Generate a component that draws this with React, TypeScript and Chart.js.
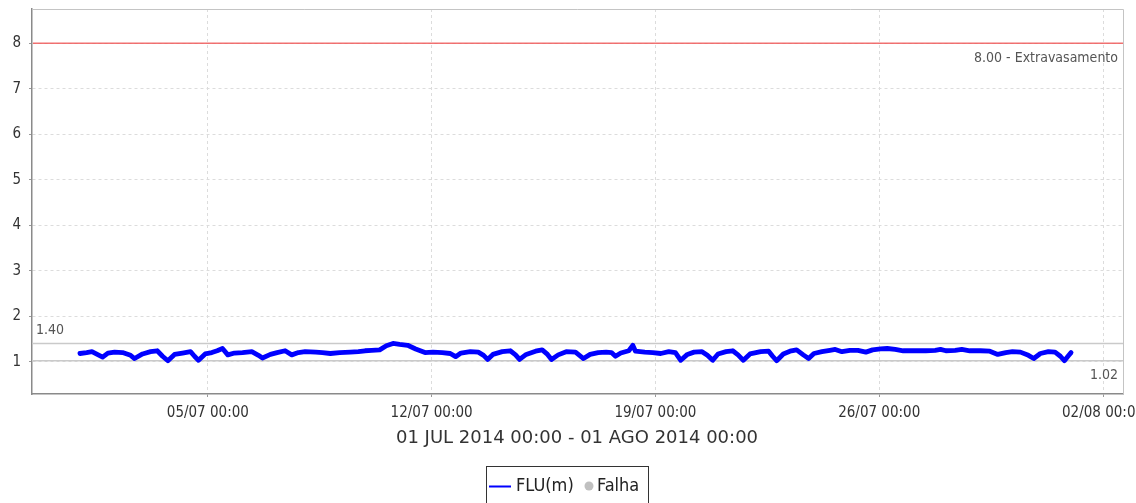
import React, { useEffect, useRef } from "react";
import { Chart, registerables } from "chart.js";

Chart.register(...registerables);

// hours since 01/07/2014 00:00
const fluHours = [
  0, 5, 9, 13, 17, 21, 26, 32, 38, 41,
  47, 53, 58, 62, 66, 71, 77, 83, 86, 89,
  94, 99, 103, 107, 111, 116, 122, 129, 134, 137,
  143, 148, 154, 159, 164, 169, 177, 182, 188, 195,
  203, 209, 214, 219, 225, 230, 235, 240, 246, 252,
  259, 265, 272, 278, 282, 286, 293, 299, 303, 306,
  310, 317, 323, 327, 330, 335, 342, 347, 351, 354,
  359, 365, 372, 375, 378, 383, 389, 395, 399, 402,
  406, 412, 415, 417, 424, 430, 436, 442, 447, 451,
  456, 461, 467, 471, 475, 479, 485, 490, 494, 498,
  503, 511, 517, 520, 523, 528, 533, 538, 543, 547,
  551, 557, 563, 567, 572, 578, 584, 590, 595, 601,
  606, 612, 618, 627, 635, 642, 646, 650, 657, 662,
  668, 676, 683, 689, 695, 700, 706, 712, 716, 721,
  727, 732, 736, 739, 742, 744,
];

const fluValues = [
  1.18, 1.2, 1.22, 1.16, 1.1, 1.19, 1.21, 1.2, 1.14, 1.07,
  1.17, 1.22, 1.24, 1.12, 1.02, 1.16, 1.19, 1.22, 1.12, 1.03,
  1.17, 1.2, 1.24, 1.29, 1.15, 1.19, 1.2, 1.22, 1.14, 1.08,
  1.16, 1.2, 1.24, 1.15, 1.2, 1.22, 1.21, 1.2, 1.18, 1.2,
  1.21, 1.22, 1.24, 1.25, 1.26, 1.35, 1.4, 1.38, 1.36, 1.28,
  1.2, 1.21, 1.2, 1.18, 1.11, 1.19, 1.22, 1.21, 1.14, 1.05,
  1.16, 1.22, 1.24, 1.15, 1.05, 1.16, 1.23, 1.26, 1.16, 1.05,
  1.15, 1.22, 1.21, 1.14, 1.07, 1.16, 1.2, 1.21, 1.2, 1.12,
  1.19, 1.24, 1.36, 1.23, 1.21, 1.2, 1.18, 1.22, 1.2, 1.03,
  1.16, 1.21, 1.22, 1.14, 1.03, 1.17, 1.22, 1.24, 1.15, 1.03,
  1.17, 1.22, 1.23, 1.12, 1.02, 1.17, 1.23, 1.26, 1.15, 1.07,
  1.18, 1.22, 1.25, 1.27, 1.22, 1.25, 1.25, 1.21, 1.26, 1.28,
  1.29, 1.27, 1.24, 1.24, 1.24, 1.25, 1.27, 1.24, 1.25, 1.27,
  1.24, 1.24, 1.23, 1.16, 1.2, 1.22, 1.21, 1.14, 1.07, 1.18,
  1.22, 1.21, 1.12, 1.02, 1.13, 1.2,
];

const xTickHours = [96, 264, 432, 600, 768];
const xTickLabels = ["05/07 00:00", "12/07 00:00", "19/07 00:00", "26/07 00:00", "02/08 00:00"];
const yTickValues = [1, 2, 3, 4, 5, 6, 7, 8];

const thresholdValue = 8.0;
const thresholdLabel = "8.00 - Extravasamento";
const maxValue = 1.4;
const maxLabel = "1.40";
const minValue = 1.02;
const minLabel = "1.02";

const periodLabel = "01 JUL 2014 00:00 - 01 AGO 2014 00:00";
const legendLabels = ["FLU(m)", "Falha"];

const X_MIN = -36;
const X_MAX = 783;
const Y_MIN = 0.29;
const Y_MAX = 8.75;

const COND = "'DejaVu Sans Condensed', 'DejaVu Sans', sans-serif";
const SANS = "'DejaVu Sans', sans-serif";

const decorPlugin = {
  id: "decor",
  beforeDatasetsDraw(chart: any) {
    const { ctx, chartArea: a, scales } = chart;
    const y = scales.y;
    ctx.save();
    ctx.setLineDash([]);
    // max / min gray lines
    ctx.strokeStyle = "#cacaca";
    ctx.lineWidth = 1.6;
    const yMx = y.getPixelForValue(maxValue);
    const yMn = y.getPixelForValue(minValue);
    ctx.beginPath();
    ctx.moveTo(a.left, yMx);
    ctx.lineTo(a.right, yMx);
    ctx.moveTo(a.left, yMn);
    ctx.lineTo(a.right, yMn);
    ctx.stroke();
    ctx.restore();
  },
  afterDatasetsDraw(chart: any) {
    const { ctx, chartArea: a, scales } = chart;
    const y = scales.y;
    ctx.save();
    ctx.setLineDash([]);
    // threshold red line
    const yT = y.getPixelForValue(thresholdValue);
    ctx.strokeStyle = "rgba(240, 90, 90, 0.85)";
    ctx.lineWidth = 1.5;
    ctx.beginPath();
    ctx.moveTo(a.left + 1, yT);
    ctx.lineTo(a.right, yT);
    ctx.stroke();
    const yMx = y.getPixelForValue(maxValue);
    const yMn = y.getPixelForValue(minValue);
    // labels
    ctx.fillStyle = "#555";
    ctx.font = `14px ${COND}`;
    ctx.textBaseline = "middle";
    ctx.textAlign = "right";
    ctx.fillText(thresholdLabel, a.right - 5, yT + 15);
    ctx.fillText(minLabel, a.right - 5, yMn + 15);
    ctx.textAlign = "left";
    ctx.fillText(maxLabel, a.left + 4, yMx - 13);
    ctx.restore();
  },
  afterDraw(chart: any) {
    const { ctx, chartArea: a } = chart;
    ctx.save();
    ctx.setLineDash([]);
    // top / right frame
    ctx.strokeStyle = "#c4c4c4";
    ctx.lineWidth = 1;
    ctx.beginPath();
    ctx.moveTo(a.left, a.top + 0.5);
    ctx.lineTo(a.right + 0.5, a.top + 0.5);
    ctx.lineTo(a.right + 0.5, a.bottom);
    ctx.stroke();
    // period title
    ctx.fillStyle = "#333";
    ctx.font = `18px ${SANS}`;
    ctx.textAlign = "center";
    ctx.textBaseline = "middle";
    ctx.fillText(periodLabel, 577, 438);
    // legend
    const bx = 486.5, by = 466.5, bw = 162, bh = 40;
    ctx.strokeStyle = "#333";
    ctx.lineWidth = 1;
    ctx.strokeRect(bx, by, bw, bh);
    const ly = 486;
    ctx.strokeStyle = "#0000ff";
    ctx.lineWidth = 2;
    ctx.beginPath();
    ctx.moveTo(489, ly + 0.5);
    ctx.lineTo(511, ly + 0.5);
    ctx.stroke();
    ctx.fillStyle = "#222";
    ctx.font = `18px ${COND}`;
    ctx.textAlign = "left";
    ctx.fillText(legendLabels[0], 516, ly);
    ctx.fillStyle = "#c0c0c0";
    ctx.beginPath();
    ctx.arc(589, ly, 4.5, 0, Math.PI * 2);
    ctx.fill();
    ctx.fillStyle = "#222";
    ctx.fillText(legendLabels[1], 597, ly);
    ctx.restore();
  },
};

export default function App() {
  const ref = useRef<HTMLCanvasElement | null>(null);

  useEffect(() => {
    const canvas = ref.current;
    if (!canvas) return;
    const data = fluHours.map((h, i) => ({ x: h, y: fluValues[i] }));
    const chart = new Chart(canvas, {
      type: "line",
      data: {
        datasets: [
          {
            label: legendLabels[0],
            data,
            borderColor: "#0000ff",
            backgroundColor: "#0000ff",
            borderWidth: 4.8,
            pointRadius: 0,
            tension: 0,
            borderJoinStyle: "round",
            borderCapStyle: "round",
          },
        ],
      },
      options: {
        responsive: false,
        animation: false,
        layout: { padding: { top: 9, right: 13, left: 0, bottom: 0 } },
        plugins: {
          legend: { display: false },
          tooltip: { enabled: false },
          title: { display: false },
        },
        scales: {
          x: {
            type: "linear",
            min: X_MIN,
            max: X_MAX,
            afterBuildTicks: (s: any) => {
              s.ticks = xTickHours.map((v) => ({ value: v }));
            },
            afterFit: (s: any) => {
              s.height = 109;
              s.paddingLeft = 0;
              s.paddingRight = 0;
            },
            ticks: {
              autoSkip: false,
              maxRotation: 0,
              minRotation: 0,
              padding: 7,
              color: "#333",
              font: { family: COND, size: 15 },
              callback: (v: any) => {
                const i = xTickHours.indexOf(Number(v));
                return i >= 0 ? xTickLabels[i] : "";
              },
            },
            grid: { color: "#dcdcdc", lineWidth: 1, tickLength: 3, tickColor: "#999" },
            border: { display: true, color: "#8a8a8a", width: 1.5, dash: [3, 3] },
          },
          y: {
            type: "linear",
            min: Y_MIN,
            max: Y_MAX,
            afterBuildTicks: (s: any) => {
              s.ticks = yTickValues.map((v) => ({ value: v }));
            },
            afterFit: (s: any) => {
              s.width = 32;
              s.paddingTop = 0;
              s.paddingBottom = 0;
            },
            ticks: {
              autoSkip: false,
              padding: 8,
              color: "#333",
              font: { family: COND, size: 15 },
              callback: (v: any) => String(v),
            },
            grid: { color: "#dcdcdc", lineWidth: 1, tickLength: 3, tickColor: "#999" },
            border: { display: true, color: "#8a8a8a", width: 1.5, dash: [3, 3] },
          },
        },
      },
      plugins: [decorPlugin],
    });
    return () => chart.destroy();
  }, []);

  return (
    <div style={{ position: "fixed", left: 0, top: 0, width: 1136, height: 503, background: "#fff" }}>
      <canvas ref={ref} width={1136} height={503} style={{ width: 1136, height: 503, display: "block" }} />
    </div>
  );
}
